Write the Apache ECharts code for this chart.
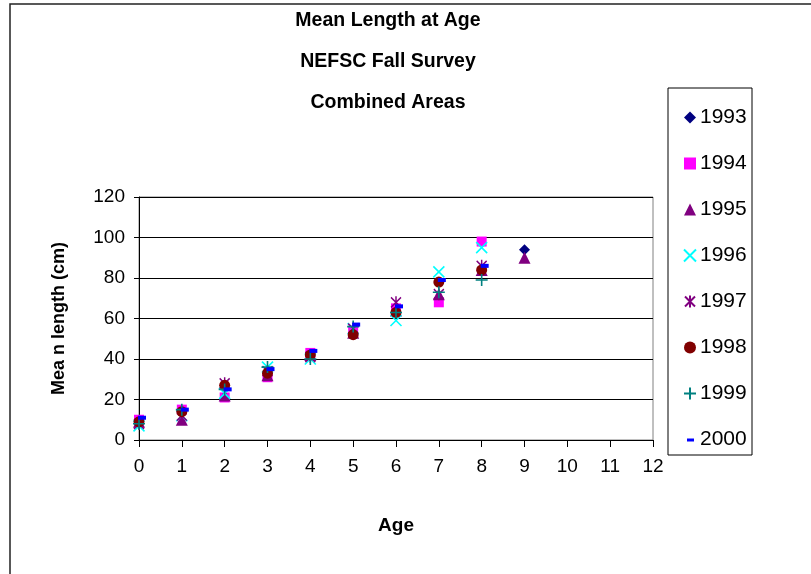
<!DOCTYPE html>
<html>
<head>
<meta charset="utf-8">
<script src="https://cdn.jsdelivr.net/npm/echarts@6/dist/echarts.min.js"></script>
<style>html,body{margin:0;padding:0;background:#fff}#c{width:811px;height:574px}</style>
</head>
<body>
<div id="c"></div>
<script>
var ages = [0,1,2,3,4,5,6,7,8,9,10,11,12];
var years = ['1993','1994','1995','1996','1997','1998','1999','2000'];
var y1993 = [null,null,null,null,null,null,null,null,null,94];
var y1994 = [10,15,21,31,43,54,65,68,98];
var y1995 = [9,10,22,32,42,53,64,72,84,90];
var y1996 = [7,12,23,36,40,55,59,83,95];
var y1997 = [8,12,28,34,41,55,68,72,86];
var y1998 = [9,14,27,33,42,52,63,78,84];
var y1999 = [8,15,25,36,40,56,63,73,79];
var y2000 = [11,15,25,35,44,57,66,79,86];
var yTicks = [0,20,40,60,80,100,120];

var seriesValues = [y1993,y1994,y1995,y1996,y1997,y1998,y1999,y2000];
var styles = [
  {symbol:'diamond', size:11, color:'#000080'},
  {symbol:'rect', size:10, color:'#FF00FF'},
  {symbol:'triangle', size:12, color:'#800080'},
  {symbol:'path://M0,0L10,10M10,0L0,10', size:11, stroke:'#00FFFF'},
  {symbol:'path://M0,0L10,10M10,0L0,10M5,-1L5,11', size:[10,12], stroke:'#800080'},
  {symbol:'circle', size:11, color:'#800000'},
  {symbol:'path://M5,0L5,10M0,5L10,5', size:12, stroke:'#008080'},
  {symbol:'rect', size:[8,4], color:'#0000FF', offset:[3,0]}
];
var legendIcons = [
  'path://M6,0L12,6L6,12L0,6Z',
  'path://M1,1L11,1L11,11L1,11Z',
  'path://M6,0L12,12L0,12Z',
  null,
  null,
  'circle',
  null,
  'path://M0,0M3,5L10,5L10,8L3,8Z M12,12'
];

function pts(arr){
  var out=[];
  for(var i=0;i<arr.length;i++){ if(arr[i]!=null) out.push([ages[i],arr[i]]); }
  return out;
}

var series = years.map(function(y,i){
  var s = styles[i];
  var st = s.stroke ? {color:'rgba(0,0,0,0)', borderColor:s.stroke, borderWidth:1.6, opacity:1} : {color:s.color, borderWidth:0, opacity:1};
  return {
    name:y, type:'scatter', data:pts(seriesValues[i]),
    symbol:s.symbol, symbolSize:s.size, symbolOffset:s.offset||[0,0],
    itemStyle:st, emphasis:{disabled:true}, z: 2+i
  };
});

var legendData = years.map(function(y,i){
  var d = {name:y};
  if (legendIcons[i]) d.icon = legendIcons[i];
  return d;
});

var chart = echarts.init(document.getElementById('c'), null, {renderer:'canvas'});
chart.setOption({
  animation:false,
  backgroundColor:'#fff',
  textStyle:{fontFamily:'Liberation Sans, Arial, sans-serif'},
  title:{
    text:'Mean Length at Age\nNEFSC Fall Survey\nCombined Areas',
    left:388, top:0, padding:0, textAlign:'center',
    textStyle:{fontSize:19.5, fontWeight:'bold', color:'#000', lineHeight:41, fontFamily:'Liberation Sans, Arial, sans-serif'}
  },
  graphic:[
    {type:'rect', shape:{x:10,y:4,width:1000,height:1000}, style:{fill:'none', stroke:'#222', lineWidth:1.5}, silent:true, z:0},
    {type:'rect', shape:{x:668,y:88,width:84,height:367}, style:{fill:'#fff', stroke:'#000', lineWidth:1}, silent:true, z:0}
  ],
  legend:{
    orient:'vertical', left:678, top:102, itemWidth:12, itemHeight:12, itemGap:25,
    data:legendData, selectedMode:false,
    textStyle:{fontSize:21, color:'#000', lineHeight:20, padding:[0,0,0,-1]}
  },
  grid:{left:139, right:158, top:197, bottom:134, show:true, borderColor:'#808080', borderWidth:1, backgroundColor:'transparent'},
  xAxis:{
    type:'value', min:0, max:12, interval:1,
    name:'Age', nameLocation:'middle', nameGap:76,
    nameTextStyle:{fontSize:19, fontWeight:'bold', color:'#000'},
    axisLine:{onZero:false, lineStyle:{color:'#000', width:1}},
    axisTick:{show:true, length:7, lineStyle:{color:'#000'}},
    axisLabel:{fontSize:19, color:'#000', margin:17},
    splitLine:{show:false}
  },
  yAxis:{
    type:'value', min:0, max:120, interval:20,
    name:'Mea n length (cm)', nameLocation:'middle', nameGap:71, nameRotate:90,
    nameTextStyle:{fontSize:18, fontWeight:'bold', color:'#000'},
    axisLine:{show:true, lineStyle:{color:'#000', width:1}},
    axisTick:{show:true, length:5, lineStyle:{color:'#000'}},
    axisLabel:{fontSize:19, color:'#000', margin:14, formatter:function(v){return yTicks.indexOf(v)>=0?String(v):'';}},
    splitLine:{show:true, lineStyle:{color:'#000', width:1}}
  },
  series:series
});
</script>
</body>
</html>
